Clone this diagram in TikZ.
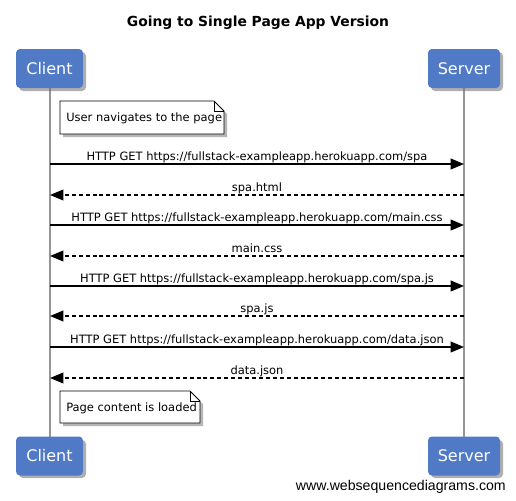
\documentclass[tikz,border=0pt]{standalone}
\usepackage{fontspec}
\setmainfont{DejaVu Sans}
\newfontfamily\wmfont{Liberation Sans}
\usetikzlibrary{arrows.meta}
\definecolor{actorblue}{RGB}{80,122,198}
\definecolor{lifegray}{RGB}{150,150,150}
\definecolor{shadowgray}{RGB}{110,110,110}
\tikzset{
  actor/.style={draw=none, fill=actorblue, rounded corners=3pt, minimum height=39*0.75pt, inner sep=0pt, text=white, font=\fontsize{12}{14}\selectfont},
  actorshadow/.style={fill=shadowgray, opacity=0.55, rounded corners=3pt},
  lifeline/.style={draw=lifegray, line width=1.5pt},
  msg/.style={draw=black, line width=1.3pt, -{Triangle[length=10pt,width=8pt]}},
  ret/.style={msg, dash pattern=on 3pt off 2.2pt},
  lbl/.style={font=\fontsize{8.6}{10}\selectfont, inner sep=0pt, anchor=base},
  notebox/.style={draw=black, line width=0.6pt, fill=white},
}
\begin{document}
\begin{tikzpicture}[x=0.75pt,y=-0.75pt]
\useasboundingbox (0,0) rectangle (516,500);
\fill[white] (0,0) rectangle (516,500);
% title
\node[font=\bfseries\fontsize{10.4}{13}\selectfont, anchor=base] (title) at (258,26) {Going to Single Page App Version};
% lifelines
\coordinate (ctop) at (50,88);
\coordinate (cbot) at (50,437);
\coordinate (stop) at (464,88);
\coordinate (sbot) at (464,437);
\draw[lifeline] (ctop) -- (cbot);
\draw[lifeline] (stop) -- (sbot);
% actor shadows
\fill[actorshadow] (19,52) rectangle (86,91);
\fill[actorshadow] (431,52) rectangle (503,91);
\fill[actorshadow] (19,440) rectangle (86,478);
\fill[actorshadow] (431,440) rectangle (503,478);
% actors
\node[actor, minimum width=67*0.75pt] (c1) at (49.5,68.5) {Client};
\node[actor, minimum width=72*0.75pt] (s1) at (464,68.5) {Server};
\node[actor, minimum width=67*0.75pt] (c2) at (49.5,456) {Client};
\node[actor, minimum width=72*0.75pt] (s2) at (464,456) {Server};
% note 1
\fill[shadowgray, opacity=0.5] (63,104) -- (217,104) -- (227,114) -- (227,137) -- (63,137) -- cycle;
\draw[notebox] (60,101) -- (214,101) -- (224,111) -- (224,134) -- (60,134) -- cycle;
\draw[line width=0.6pt] (214,101) -- (214,111) -- (224,111);
\node[lbl, anchor=base west] (n1) at (66,121.5) {User navigates to the page};
% note 2
\fill[shadowgray, opacity=0.5] (63,394) -- (193,394) -- (203,404) -- (203,426) -- (63,426) -- cycle;
\draw[notebox] (60,391) -- (190,391) -- (200,401) -- (200,423) -- (60,423) -- cycle;
\draw[line width=0.6pt] (190,391) -- (190,401) -- (200,401);
\node[lbl, anchor=base west] (n2) at (66,411) {Page content is loaded};
% messages
\coordinate (a1c) at (50,164); \coordinate (a1s) at (464,164);
\coordinate (a2c) at (50,195); \coordinate (a2s) at (464,195);
\coordinate (a3c) at (50,225); \coordinate (a3s) at (464,225);
\coordinate (a4c) at (50,256); \coordinate (a4s) at (464,256);
\coordinate (a5c) at (50,286); \coordinate (a5s) at (464,286);
\coordinate (a6c) at (50,316); \coordinate (a6s) at (464,316);
\coordinate (a7c) at (50,347); \coordinate (a7s) at (464,347);
\coordinate (a8c) at (50,378); \coordinate (a8s) at (464,378);
\draw[msg] (a1c) -- (a1s);
\draw[ret] (a2s) -- (a2c);
\draw[msg] (a3c) -- (a3s);
\draw[ret] (a4s) -- (a4c);
\draw[msg] (a5c) -- (a5s);
\draw[ret] (a6s) -- (a6c);
\draw[msg] (a7c) -- (a7s);
\draw[ret] (a8s) -- (a8c);
\node[lbl] (l1) at (257,160) {HTTP GET https://fullstack-exampleapp.herokuapp.com/spa};
\node[lbl] (l2) at (257,191) {spa.html};
\node[lbl] (l3) at (257,221) {HTTP GET https://fullstack-exampleapp.herokuapp.com/main.css};
\node[lbl] (l4) at (257,252) {main.css};
\node[lbl] (l5) at (257,282) {HTTP GET https://fullstack-exampleapp.herokuapp.com/spa.js};
\node[lbl] (l6) at (257,312) {spa.js};
\node[lbl] (l7) at (257,343) {HTTP GET https://fullstack-exampleapp.herokuapp.com/data.json};
\node[lbl] (l8) at (257,374) {data.json};
% watermark
\node[font=\wmfont\fontsize{10.6}{12}\selectfont, anchor=base east, inner sep=0pt] (wm) at (506,490) {www.websequencediagrams.com};
\end{tikzpicture}
\end{document}
